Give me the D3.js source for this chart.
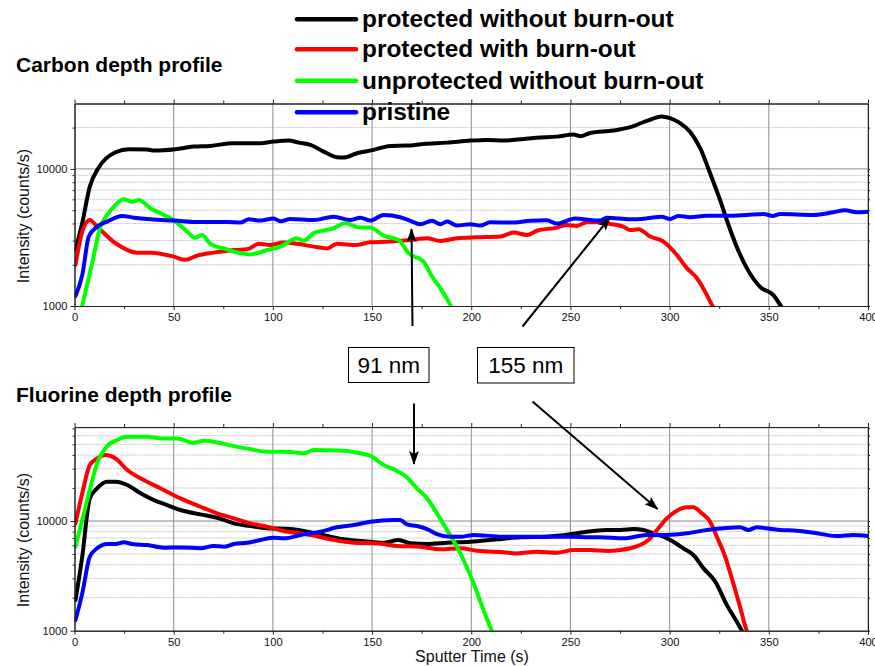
<!DOCTYPE html>
<html>
<head>
<meta charset="utf-8">
<script src="https://cdn.jsdelivr.net/npm/d3@7"></script>
<style>
  html, body { margin: 0; padding: 0; background: #fff; }
  svg { display: block; font-family: "Liberation Sans", Arial, sans-serif; }
</style>
</head>
<body>
<svg id="chart" width="875" height="666"></svg>
<script>
// ---- Series names & colours ----
const seriesNames = ["protected without burn-out", "protected with burn-out", "unprotected without burn-out", "pristine"];
const seriesColors = ["#000000", "#ff0000", "#00ff00", "#0000ff"];

// ---- Axis ticks ----
const xTicks = [0, 50, 100, 150, 200, 250, 300, 350, 400];
const xMinorTicks = [25, 75, 125, 175, 225, 275, 325, 375];
const yTickLabels = [1000, 10000];

// ---- Carbon depth profile: [sputter time (s), intensity (counts/s)] ----
const carbonProtectedNoBurn = [[0.5,2570],[3.9,4030],[7.7,7430],[12.3,10290],[20.7,13240],[27.4,13930],[36.6,13880],[40,13600],[50.9,13930],[60,14550],[68.5,14720],[80,15400],[93.7,15400],[100.4,15820],[108,16100],[113,15550],[118.9,14960],[125.6,13380],[132.3,12170],[135.7,12090],[142.4,13020],[150.8,13760],[159.2,14720],[167.6,14790],[176,15220],[187.8,15550],[199.5,16100],[207.9,16280],[216.3,16100],[226.3,16550],[233.1,16900],[243.2,17200],[251.5,17800],[255,17300],[260,18300],[271.7,19050],[280.1,20150],[288.5,22400],[296,24100],[300.2,23440],[305.3,21550],[310.3,18700],[315.4,14160],[320.4,9300],[325.4,5940],[328.8,4240],[333.8,2710],[338.9,1890],[345.6,1380],[352.3,1200],[355.7,1020],[357,950]];
const carbonProtectedBurn = [[0.5,1990],[3.9,3490],[7.7,4240],[11.4,3790],[20.7,2870],[31.6,2450],[38.9,2450],[50,2290],[56,2170],[61.8,2330],[70.2,2450],[80.3,2560],[87,2590],[92.9,2840],[98.7,2790],[105.4,2900],[112.2,2840],[120.6,2710],[127.3,2630],[132.3,2840],[142.4,2790],[149.1,2920],[159.2,2950],[169.3,3030],[177.7,3120],[184.4,2980],[192.8,3120],[202.9,3170],[214.6,3210],[221.3,3430],[228.1,3300],[233.1,3540],[243.2,3730],[248.2,3900],[253.2,3840],[258.3,4080],[265,4080],[270,3970],[276.7,3790],[280.1,3580],[284.3,3630],[290.2,3210],[296.9,2950],[303.6,2360],[308.7,1890],[313.7,1600],[317.9,1270],[321.3,1020],[322,980]];
const carbonUnprotected = [[3.5,950],[8.9,2050],[13.1,3790],[16.5,4620],[20.7,5460],[24.8,6010],[29,5770],[32.4,5940],[38.3,5160],[43.3,4750],[50.9,4130],[56,3580],[61,3150],[64.3,3300],[68.5,2840],[76.9,2590],[83.6,2430],[88.7,2380],[97.1,2560],[103.8,2710],[112.2,3120],[115.5,2990],[120.6,3400],[130.6,3690],[136.5,4010],[144.1,3730],[149.1,3730],[155.8,3260],[163.4,3030],[168.4,2430],[176,2110],[180.2,1640],[184.4,1350],[189.4,1020],[190.5,950]];
const carbonPristine = [[0.5,1183],[3.9,1680],[7.2,3210],[11.4,3790],[16.5,4130],[24,4540],[29.9,4410],[38.3,4290],[50,4200],[63.5,4100],[76.9,4100],[83.6,4060],[87.8,4290],[93.7,4200],[100.4,4350],[103.8,4150],[108.8,4320],[120.6,4240],[130.6,4480],[139,4240],[144.1,4410],[149.1,4200],[155.8,4620],[164.2,4440],[169.3,4180],[174.3,3950],[180.2,4180],[184.4,3950],[187.8,4130],[192.8,3860],[199.5,3950],[204.5,3860],[209.6,4080],[219.6,4060],[229.7,4180],[238.1,4220],[243.2,3990],[252.4,4350],[260,4240],[265,4200],[268.3,4410],[280.1,4290],[288.5,4360],[296,4480],[300.2,4320],[304.4,4540],[310.3,4440],[318.7,4560],[330.5,4560],[338.9,4620],[347.3,4690],[352.3,4540],[355.7,4690],[372.5,4620],[382.5,4830],[388.4,4990],[394.3,4830],[400,4880]];

// ---- Fluorine depth profile ----
const fluorineProtectedNoBurn = [[0.5,1900],[3.9,4730],[7.7,16100],[11.4,19880],[16.5,22800],[20.7,22800],[26.6,21300],[33.3,17900],[40,15530],[46.7,13990],[53.4,12600],[63.5,11500],[71.9,10720],[80.3,9520],[88.7,9000],[97.1,8580],[107.1,8500],[115.5,8110],[124,7560],[135.7,6810],[149.1,6470],[155.8,6340],[163.4,6710],[169.3,6260],[177.7,6170],[187.8,6340],[199.5,6470],[212.9,6810],[224.7,7100],[238.1,7190],[249.9,7560],[258.3,8000],[268.3,8280],[275.1,8280],[281.8,8450],[286.8,8280],[291,7830],[296.9,7190],[301.9,6470],[306.9,5640],[312,4900],[317.1,3700],[323,2800],[328.8,1720],[333.8,1210],[336.4,1000],[337,950]];
const fluorineProtectedBurn = [[0.5,9520],[3.9,17900],[7.7,32400],[11.4,37200],[15.6,39950],[20.7,37200],[26.6,29170],[33.3,24500],[43.3,19880],[53.4,16100],[63.5,13500],[71.9,11750],[80.3,10580],[88.7,9520],[97.1,8870],[105.4,8110],[113,7720],[118.9,7460],[129,6810],[140.7,6340],[152.5,6260],[162.6,5920],[174.3,5830],[184.4,5520],[194.5,5640],[202.9,5360],[216.3,5180],[223,5070],[233.1,5250],[243.2,5140],[251.5,5440],[260,5440],[268.3,5330],[275.1,5440],[280.1,5640],[285.1,6040],[289.3,6710],[293.6,8280],[298.6,10580],[303.6,12410],[308.7,13320],[312,13320],[316.2,11750],[320.4,9850],[323.8,7190],[328,4720],[332.1,2700],[335.5,1650],[338.9,1000],[339.5,950]];
const fluorineUnprotected = [[0.5,5830],[3.9,10200],[7.7,19180],[11.4,33600],[16.5,48200],[21.5,54800],[26.6,58630],[36.6,58630],[43.3,56700],[51.7,56700],[60,51700],[65.1,53950],[70.2,52800],[80.3,48200],[88.7,45100],[97.1,42900],[105.4,42900],[113,41900],[115.5,41400],[120.6,44400],[135.7,43800],[145.8,40800],[149.1,39400],[155.8,32400],[161.7,29170],[167.6,25000],[172.6,19880],[177.7,16100],[182.7,11750],[187.8,8280],[192.8,5830],[196.1,4410],[201.2,2700],[206.2,1540],[210.4,1000],[211,950]];
const fluorinePristine = [[0.5,1250],[3.9,2190],[7.7,4730],[11.4,5640],[16.5,6170],[20.7,6170],[24.8,6390],[29.9,6130],[36.6,6040],[45,5710],[53.4,5750],[63.5,5640],[70.2,5920],[75.2,5830],[80.3,6170],[87,6340],[93.7,6710],[100.4,7040],[105.4,6950],[115.5,7560],[124,7990],[132.3,8760],[140.7,9190],[149.1,9850],[160.9,10220],[164.2,10220],[167.6,9330],[172.6,9000],[177.7,8450],[182.7,7610],[189.4,7190],[194.5,7190],[201.2,7460],[207.9,7360],[216.3,7190],[226.3,7190],[238.1,7190],[249.9,7190],[260,7100],[265,7100],[276.7,6950],[288.5,7460],[298.6,7460],[308.7,7720],[318.7,8280],[327.1,8580],[335.5,8760],[339.7,8280],[343.9,8760],[355.7,8280],[364.1,8160],[372.5,7830],[384.2,7300],[392.6,7460],[400,7300]];

// ---- Annotations (depths) ----
const depthLabels = ["91 nm", "155 nm"];

// ---------------------------------------------------------------
const svg = d3.select("#chart");
const FONT = "'Liberation Sans', Arial, sans-serif";

const x = d3.scaleLinear().domain([0, 400]).range([74.5, 868]);

const panels = [
  {
    id: "carbon",
    title: "Carbon depth profile",
    titleY: 72,
    y: d3.scaleLog().domain([1000, 30000]).range([306, 103.5]),
    minor: [2000,3000,4000,5000,6000,7000,8000,9000,20000],
    series: [carbonProtectedNoBurn, carbonProtectedBurn, carbonUnprotected, carbonPristine],
    ylabelY: 216
  },
  {
    id: "fluorine",
    title: "Fluorine depth profile",
    titleY: 402,
    y: d3.scaleLog().domain([1000, 72000]).range([630.7, 427]),
    minor: [2000,3000,4000,5000,6000,7000,8000,9000,20000,30000,40000,50000,60000,70000],
    series: [fluorineProtectedNoBurn, fluorineProtectedBurn, fluorineUnprotected, fluorinePristine],
    ylabelY: 540
  }
];

const defs = svg.append("defs");
defs.append("marker")
  .attr("id", "arrowhead")
  .attr("viewBox", "0 0 14 10")
  .attr("refX", 13).attr("refY", 5)
  .attr("markerWidth", 14).attr("markerHeight", 10)
  .attr("markerUnits", "userSpaceOnUse")
  .attr("orient", "auto")
  .append("path")
  .attr("d", "M0,0 L14,5 L0,10 L3,5 Z")
  .attr("fill", "#000");

panels.forEach(p => {
  const y = p.y;
  const [x0, x1] = x.range();
  const [yb, yt] = y.range();
  const g = svg.append("g").attr("class", p.id);

  defs.append("clipPath").attr("id", "clip-" + p.id)
    .append("rect").attr("x", x0).attr("y", yt).attr("width", x1 - x0).attr("height", yb - yt);

  // minor horizontal grid (dotted)
  g.append("g").selectAll("line").data(p.minor).join("line")
    .attr("x1", x0).attr("x2", x1)
    .attr("y1", d => y(d)).attr("y2", d => y(d))
    .attr("stroke", "#c4c4c4").attr("stroke-width", 1)
    .attr("stroke-dasharray", "2,1");

  // major grid
  g.append("g").selectAll("line").data(xTicks.slice(1)).join("line")
    .attr("x1", d => x(d)).attr("x2", d => x(d))
    .attr("y1", yt).attr("y2", yb)
    .attr("stroke", "#8c8c8c").attr("stroke-width", 1);
  g.append("line")
    .attr("x1", x0).attr("x2", x1)
    .attr("y1", y(10000)).attr("y2", y(10000))
    .attr("stroke", "#8c8c8c").attr("stroke-width", 1);

  // data lines
  const line = d3.line()
    .x(d => x(d[0])).y(d => y(d[1]))
    .curve(d3.curveMonotoneX);
  const lg = g.append("g").attr("clip-path", "url(#clip-" + p.id + ")");
  p.series.forEach((s, i) => {
    lg.append("path")
      .datum(s)
      .attr("d", line)
      .attr("fill", "none")
      .attr("stroke", seriesColors[i])
      .attr("stroke-width", 4)
      .attr("stroke-linejoin", "round")
      .attr("stroke-linecap", "round");
  });

  // axes
  const axisStyle = sel => {
    sel.select(".domain").attr("stroke", "#222");
    sel.selectAll(".tick line").attr("stroke", "#222");
    sel.selectAll("text").attr("font-family", FONT).attr("font-size", 11.2).attr("fill", "#111");
  };
  g.append("g").attr("transform", `translate(0,${yb})`)
    .call(d3.axisBottom(x).tickValues(xTicks).tickSize(4).tickPadding(3).tickSizeOuter(0))
    .call(axisStyle);
  g.append("g").attr("transform", `translate(0,${yb})`)
    .call(d3.axisBottom(x).tickValues(xMinorTicks).tickSize(3).tickFormat("").tickSizeOuter(0))
    .call(axisStyle);
  g.append("g").attr("transform", `translate(0,${yt})`)
    .call(d3.axisTop(x).tickValues(xTicks).tickSize(4).tickFormat("").tickSizeOuter(0))
    .call(axisStyle);
  g.append("g").attr("transform", `translate(0,${yt})`)
    .call(d3.axisTop(x).tickValues(xMinorTicks).tickSize(3).tickFormat("").tickSizeOuter(0))
    .call(axisStyle);
  g.append("g").attr("transform", `translate(${x0},0)`)
    .call(d3.axisLeft(y).tickValues(yTickLabels).tickFormat(d3.format("d")).tickSize(4).tickPadding(3).tickSizeOuter(0))
    .call(axisStyle);
  g.append("g").attr("transform", `translate(${x0},0)`)
    .call(d3.axisLeft(y).tickValues(p.minor).tickFormat("").tickSize(2).tickSizeOuter(0))
    .call(axisStyle);
  g.append("g").attr("transform", `translate(${x1},0)`)
    .call(d3.axisRight(y).tickValues(yTickLabels.concat(p.minor)).tickFormat("").tickSize(2).tickSizeOuter(0))
    .call(axisStyle);

  // title
  svg.append("text")
    .attr("x", 16).attr("y", p.titleY)
    .attr("font-family", FONT).attr("font-weight", "bold").attr("font-size", 21)
    .attr("fill", "#000")
    .text(p.title);

  // y-axis label
  svg.append("text")
    .attr("transform", `translate(29,${p.ylabelY}) rotate(-90)`)
    .attr("text-anchor", "middle")
    .attr("font-family", FONT).attr("font-size", 16).attr("fill", "#111")
    .text("Intensity (counts/s)");
});

// x-axis title
svg.append("text")
  .attr("x", 472).attr("y", 662)
  .attr("text-anchor", "middle")
  .attr("font-family", FONT).attr("font-size", 16).attr("fill", "#111")
  .text("Sputter Time (s)");

// legend
const legend = svg.append("g");
const legendRowsY = [19.3, 49.3, 80.7, 112.3];
seriesNames.forEach((name, i) => {
  legend.append("line")
    .attr("x1", 297).attr("x2", 356)
    .attr("y1", legendRowsY[i]).attr("y2", legendRowsY[i])
    .attr("stroke", seriesColors[i]).attr("stroke-width", 4.5)
    .attr("stroke-linecap", "round");
  legend.append("text")
    .attr("x", 362).attr("y", legendRowsY[i] + 8)
    .attr("font-family", FONT).attr("font-weight", "bold").attr("font-size", 24.4)
    .attr("fill", "#000")
    .text(name);
});

// depth annotations: labelled boxes with arrows into both panels
const ann = svg.append("g");
const boxes = [
  { label: depthLabels[0], x: 348.5, y: 347.5, w: 80.5, h: 35 },
  { label: depthLabels[1], x: 477.5, y: 347.5, w: 96.5, h: 35.5 }
];
boxes.forEach(b => {
  ann.append("rect")
    .attr("x", b.x).attr("y", b.y).attr("width", b.w).attr("height", b.h)
    .attr("fill", "#fff").attr("stroke", "#000").attr("stroke-width", 1);
  ann.append("text")
    .attr("x", b.x + b.w / 2).attr("y", b.y + b.h / 2 + 8)
    .attr("text-anchor", "middle")
    .attr("font-family", FONT).attr("font-size", 22.5).attr("fill", "#000")
    .text(b.label);
});
const arrows = [
  [412.5, 326, 411.5, 229],
  [522.5, 326.5, 610, 217.5],
  [414, 403.5, 414, 464],
  [532.5, 401.5, 657.5, 509]
];
ann.selectAll("line.arrow").data(arrows).join("line")
  .attr("class", "arrow")
  .attr("x1", d => d[0]).attr("y1", d => d[1])
  .attr("x2", d => d[2]).attr("y2", d => d[3])
  .attr("stroke", "#000").attr("stroke-width", 2)
  .attr("marker-end", "url(#arrowhead)");
</script>
</body>
</html>
